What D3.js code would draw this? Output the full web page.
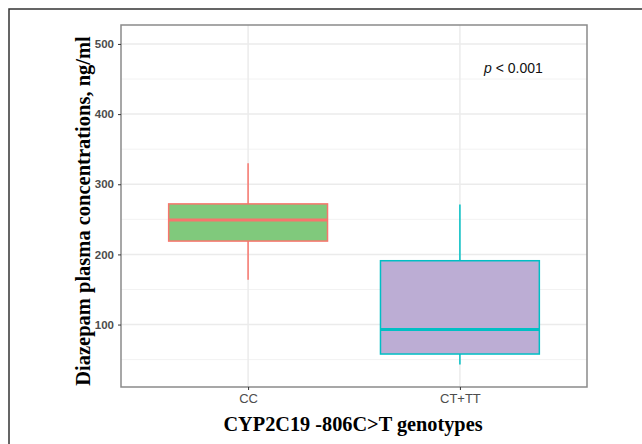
<!DOCTYPE html>
<html>
<head>
<meta charset="utf-8">
<script src="https://cdn.jsdelivr.net/npm/d3@7"></script>
<style>
  body { margin: 0; background: #fff; }
  svg { display: block; }
</style>
</head>
<body>
<div id="chart"></div>
<script>
// genotype groups and box stats (ng/ml)
const groups = ['CC', 'CT+TT'];
const whiskerLow = [164, 43];
const q1 = [219, 58];
const median = [249, 93];
const q3 = [272, 191];
const whiskerHigh = [330, 271];
const fills = ['#80c97c', '#bcadd4'];
const strokes = ['#f8766d', '#00bfc4'];
const yTicks = [100, 200, 300, 400, 500];
const yMinor = [50, 150, 250, 350, 450];

const width = 642;
const height = 444;
const margin = { top: 25, right: 55, bottom: 57, left: 121 };

const svg = d3.select('#chart')
  .append('svg')
  .attr('width', width)
  .attr('height', height);

// outer frame of the figure (runs off right/bottom edges)
svg.append('path')
  .attr('d', `M9,${height + 5} L9,9 L${width + 5},9`)
  .attr('fill', 'none')
  .attr('stroke', '#333')
  .attr('stroke-width', 1.5);

const x = d3.scalePoint()
  .domain(groups)
  .range([margin.left, width - margin.right])
  .padding(0.6); // ggplot discrete expand of 0.6 each side

const y = d3.scaleLinear()
  .domain([11, 527])
  .range([height - margin.bottom, margin.top]);

const step = x.step();
const boxW = step * 0.75;

const plot = svg.append('g');

// grid
plot.selectAll('.minor')
  .data(yMinor)
  .enter()
  .append('line')
  .attr('x1', margin.left).attr('x2', width - margin.right)
  .attr('y1', d => y(d)).attr('y2', d => y(d))
  .attr('stroke', '#f2f2f2').attr('stroke-width', 1);

plot.selectAll('.major')
  .data(yTicks)
  .enter()
  .append('line')
  .attr('x1', margin.left).attr('x2', width - margin.right)
  .attr('y1', d => y(d)).attr('y2', d => y(d))
  .attr('stroke', '#ebebeb').attr('stroke-width', 1.5);

plot.selectAll('.vgrid')
  .data(groups)
  .enter()
  .append('line')
  .attr('x1', d => x(d)).attr('x2', d => x(d))
  .attr('y1', margin.top).attr('y2', height - margin.bottom)
  .attr('stroke', '#ebebeb').attr('stroke-width', 1.5);

// boxes
const box = plot.selectAll('.box')
  .data(groups)
  .enter()
  .append('g')
  .attr('class', 'box');

box.append('line')
  .attr('x1', d => x(d)).attr('x2', d => x(d))
  .attr('y1', (d, i) => y(q3[i])).attr('y2', (d, i) => y(whiskerHigh[i]))
  .attr('stroke', (d, i) => strokes[i]).attr('stroke-width', 1.5);

box.append('line')
  .attr('x1', d => x(d)).attr('x2', d => x(d))
  .attr('y1', (d, i) => y(q1[i])).attr('y2', (d, i) => y(whiskerLow[i]))
  .attr('stroke', (d, i) => strokes[i]).attr('stroke-width', 1.5);

box.append('rect')
  .attr('x', d => x(d) - boxW / 2)
  .attr('width', boxW)
  .attr('y', (d, i) => y(q3[i]))
  .attr('height', (d, i) => y(q1[i]) - y(q3[i]))
  .attr('fill', (d, i) => fills[i])
  .attr('stroke', (d, i) => strokes[i])
  .attr('stroke-width', 1.5);

box.append('line')
  .attr('x1', d => x(d) - boxW / 2).attr('x2', d => x(d) + boxW / 2)
  .attr('y1', (d, i) => y(median[i])).attr('y2', (d, i) => y(median[i]))
  .attr('stroke', (d, i) => strokes[i]).attr('stroke-width', 3);

// panel border
plot.append('rect')
  .attr('x', margin.left).attr('y', margin.top)
  .attr('width', width - margin.left - margin.right)
  .attr('height', height - margin.top - margin.bottom)
  .attr('fill', 'none')
  .attr('stroke', '#8a8a8a')
  .attr('stroke-width', 1.5);

// axes
const yAxis = svg.append('g')
  .attr('transform', `translate(${margin.left},0)`)
  .call(d3.axisLeft(y).tickValues(yTicks).tickSize(3).tickPadding(4));
yAxis.select('.domain').remove();
yAxis.selectAll('line').attr('stroke', '#333');
yAxis.selectAll('text')
  .attr('fill', '#4d4d4d')
  .style('font-family', '"Liberation Sans", Arial, sans-serif')
  .style('font-size', '11.5px')
  .style('font-weight', 'bold');

const xAxis = svg.append('g')
  .attr('transform', `translate(0,${height - margin.bottom})`)
  .call(d3.axisBottom(x).tickSize(3).tickPadding(4));
xAxis.select('.domain').remove();
xAxis.selectAll('line').attr('stroke', '#333');
xAxis.selectAll('text')
  .attr('fill', '#4d4d4d')
  .style('font-family', '"Liberation Sans", Arial, sans-serif')
  .style('font-size', '13px');

// titles
svg.append('text')
  .attr('transform', `translate(90,${(margin.top + height - margin.bottom) / 2 + 5}) rotate(-90)`)
  .attr('text-anchor', 'middle')
  .style('font-family', '"Liberation Serif", "Times New Roman", serif')
  .style('font-weight', 'bold')
  .style('font-size', '20.5px')
  .text('Diazepam plasma concentrations, ng/ml');

svg.append('text')
  .attr('x', 353)
  .attr('y', 431)
  .attr('text-anchor', 'middle')
  .style('font-family', '"Liberation Serif", "Times New Roman", serif')
  .style('font-weight', 'bold')
  .style('font-size', '20.3px')
  .text('CYP2C19 -806C>T genotypes');

// annotation
const ann = svg.append('text')
  .attr('x', 484)
  .attr('y', 73)
  .style('font-family', '"Liberation Sans", Arial, sans-serif')
  .style('font-size', '14px')
  .attr('fill', '#111');
ann.append('tspan').style('font-style', 'italic').text('p');
ann.append('tspan').text(' < 0.001');
</script>
</body>
</html>
